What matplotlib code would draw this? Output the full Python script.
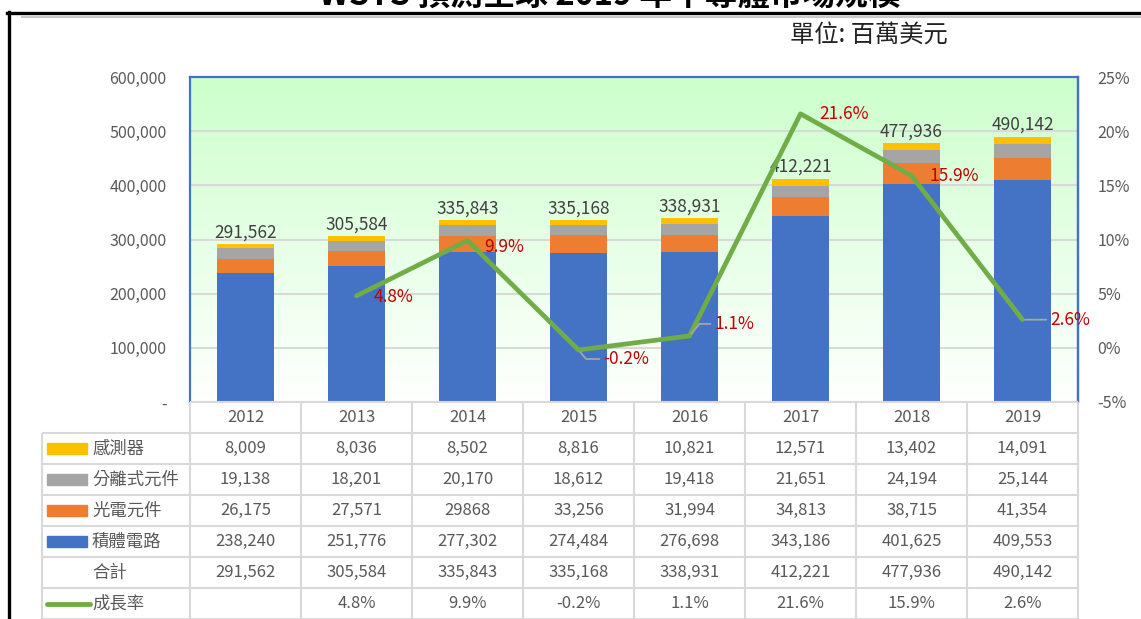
import matplotlib
matplotlib.use('Agg')
import matplotlib.pyplot as plt
import numpy as np
from matplotlib.patches import Rectangle
from matplotlib.lines import Line2D
from matplotlib.ticker import FixedLocator, FixedFormatter

plt.rcParams['font.family'] = ['Noto Sans CJK TC', 'DejaVu Sans']

# ---------------- data ----------------
years = ['2012', '2013', '2014', '2015', '2016', '2017', '2018', '2019']
ic = [238240, 251776, 277302, 274484, 276698, 343186, 401625, 409553]
opto = [26175, 27571, 29868, 33256, 31994, 34813, 38715, 41354]
discrete = [19138, 18201, 20170, 18612, 19418, 21651, 24194, 25144]
sensor = [8009, 8036, 8502, 8816, 10821, 12571, 13402, 14091]
total = [291562, 305584, 335843, 335168, 338931, 412221, 477936, 490142]
growth = [None, 4.8, 9.9, -0.2, 1.1, 21.6, 15.9, 2.6]

name_sensor = '感測器'
name_discrete = '分離式元件'
name_opto = '光電元件'
name_ic = '積體電路'
name_total = '合計'
name_growth = '成長率'

left_ticks = [0, 100000, 200000, 300000, 400000, 500000, 600000]
left_tick_labels = ['-', '100,000', '200,000', '300,000', '400,000', '500,000', '600,000']
right_ticks = [-5, 0, 5, 10, 15, 20, 25]
right_tick_labels = ['-5%', '0%', '5%', '10%', '15%', '20%', '25%']

title_text = 'WSTS 預測全球 2019 年半導體市場規模'
unit_text = '單位: 百萬美元'

# ---------------- styles ----------------
C_IC = '#4472C4'
C_OPTO = '#ED7D31'
C_DISC = '#A5A5A5'
C_SENS = '#FFC000'
C_LINE = '#70AD47'
C_LBL = '#C00000'
C_TXT = '#595959'
C_GRID = '#D9D9D9'

W, H = 1141, 619
fig = plt.figure(figsize=(W / 100, H / 100), dpi=100)


def fx(px):
    return px / W


def fy(py):
    return 1 - py / H


# main axes (plot area)
PL, PR, PT, PB = 190, 1078, 77, 402
ax = fig.add_axes([fx(PL), fy(PB), (PR - PL) / W, (PB - PT) / H])
x = np.arange(len(years))

# gradient background
grad = np.linspace(0, 1, 256).reshape(-1, 1)
top = np.array([204, 255, 204]) / 255.0
bot = np.array([255, 255, 255]) / 255.0
img = grad[:, :, None] * top[None, None, :] + (1 - grad[:, :, None]) * bot[None, None, :]
ax.imshow(img, extent=[0, 1, 0, 1], transform=ax.transAxes, origin='lower',
          aspect='auto', zorder=0.1, interpolation='bicubic')
ax.set_xlim(-0.5, len(years) - 0.5)
ax.set_ylim(0, 600000)

ax.set_axisbelow(True)
ax.yaxis.grid(True, color=C_GRID, lw=1.5)
ax.xaxis.grid(False)

bw = 0.52
b0 = np.zeros(len(years))
for vals, col in [(ic, C_IC), (opto, C_OPTO), (discrete, C_DISC), (sensor, C_SENS)]:
    ax.bar(x, vals, bw, bottom=b0, color=col, zorder=2)
    b0 = b0 + np.array(vals)

for i, t in enumerate(total):
    ax.annotate(f"{t:,}", (x[i], t), xytext=(0, 2), textcoords='offset points',
                ha='center', va='bottom', fontsize=12.5, color='#404040', zorder=5)

ax.yaxis.set_major_locator(FixedLocator(left_ticks))
ax.yaxis.set_major_formatter(FixedFormatter(left_tick_labels))
ax.tick_params(axis='y', length=0, pad=17, labelsize=11.5, labelcolor=C_TXT)
ax.set_xticks([])
for s in ['left', 'top', 'right']:
    ax.spines[s].set_color(C_IC)
    ax.spines[s].set_linewidth(1.6)
ax.spines['bottom'].set_visible(False)

# secondary axis
ax2 = ax.twinx()
ax2.set_ylim(-5, 25)
ax2.set_xlim(-0.5, len(years) - 0.5)
gx = [i for i, g in enumerate(growth) if g is not None]
gy = [g for g in growth if g is not None]
ax2.plot(gx, gy, color=C_LINE, lw=3.4, solid_capstyle='round', solid_joinstyle='round', zorder=4)
ax2.yaxis.set_major_locator(FixedLocator(right_ticks))
ax2.yaxis.set_major_formatter(FixedFormatter(right_tick_labels))
ax2.tick_params(axis='y', length=0, pad=14, labelsize=11.5, labelcolor=C_TXT)
for s in ['left', 'top', 'bottom']:
    ax2.spines[s].set_visible(False)
ax2.spines['right'].set_color(C_IC)
ax2.spines['right'].set_linewidth(1.6)

# growth labels: (dx, dy) in pixels, leader style
lbl_style = {
    1: ((17, -1), None),
    2: ((17, -6), None),
    3: ((25, -9), 'angle,angleA=0,angleB=-50,rad=0'),
    4: ((25, 12), 'angle,angleA=0,angleB=50,rad=0'),
    5: ((19, 0), None),
    6: ((18, 0), None),
    7: ((28, 0), 'arc3'),
}
for i, g in zip(gx, gy):
    (dx, dy), conn = lbl_style[i]
    kw = {}
    if conn is not None:
        kw['arrowprops'] = dict(arrowstyle='-', color='#A5A5A5', lw=1.3,
                                connectionstyle=conn, shrinkA=1, shrinkB=2)
    ax2.annotate(f"{g:.1f}%", (i, g), xytext=(dx, dy), textcoords='offset pixels',
                 ha='left', va='center', fontsize=12.5, color=C_LBL, zorder=6, **kw)

# ---------------- data table ----------------
TL = 42
col_w = (PR - PL) / len(years)
x0 = -0.5 - (PL - TL) / col_w
tax = fig.add_axes([fx(TL), 0, (PR - TL) / W, (H - PB) / H])
tax.set_xlim(x0, len(years) - 0.5)
tax.set_ylim(7, 0)
tax.axis('off')

lkw = dict(color=C_GRID, lw=1.5, clip_on=False, solid_capstyle='butt')
tax.plot([-0.5, len(years) - 0.5], [0, 0], **lkw)
for r in range(1, 8):
    tax.plot([x0, len(years) - 0.5], [r, r], **lkw)
tax.plot([x0, x0], [1, 7], **lkw)
for c in range(len(years) + 1):
    tax.plot([c - 0.5, c - 0.5], [0, 7], **lkw)

tfs = 12
for i, yr in enumerate(years):
    tax.text(i, 0.5, yr, ha='center', va='center', fontsize=tfs, color=C_TXT)


def fmt(v):
    return f"{v:,}"


opto_text = [fmt(v) for v in opto]
opto_text[2] = '29868'
rows = [
    (name_sensor, [fmt(v) for v in sensor], ('rect', C_SENS)),
    (name_discrete, [fmt(v) for v in discrete], ('rect', C_DISC)),
    (name_opto, opto_text, ('rect', C_OPTO)),
    (name_ic, [fmt(v) for v in ic], ('rect', C_IC)),
    (name_total, [fmt(v) for v in total], None),
    (name_growth, ['' if g is None else f"{g:.1f}%" for g in growth], ('line', C_LINE)),
]
px_to_d = 1 / col_w
for r, (name, texts, key) in enumerate(rows, start=1):
    yc = r + 0.5
    tax.text(x0 + 50 * px_to_d, yc, name, ha='left', va='center', fontsize=12.5, color=C_TXT)
    for i, t in enumerate(texts):
        tax.text(i, yc, t, ha='center', va='center', fontsize=tfs, color=C_TXT)
    if key is not None:
        kind, col = key
        if kind == 'rect':
            tax.add_patch(Rectangle((x0 + 5 * px_to_d, yc - 0.17), 40 * px_to_d, 0.34,
                                    color=col, clip_on=False))
        else:
            tax.plot([x0 + 5 * px_to_d, x0 + 48 * px_to_d], [yc, yc], color=col, lw=3.5,
                     solid_capstyle='round', clip_on=False)

# ---------------- frame, title, unit ----------------
fig.add_artist(Line2D([fx(8.5), fx(8.5)], [fy(12), 0], color='black', lw=2.4))
fig.add_artist(Line2D([fx(7), 1], [fy(13), fy(13)], color='black', lw=2.4))
fig.add_artist(Line2D([fx(22), 1], [fy(16.5), fy(16.5)], color='#C8C8C8', lw=1.5))
fig.text(fx(610), fy(6), title_text, ha='center', va='baseline', fontsize=23.5,
         fontweight='bold', color='black')
fig.text(fx(790), fy(35), unit_text, ha='left', va='center', fontsize=17.5, color='#222222')

fig.savefig('out.png', dpi=100)
